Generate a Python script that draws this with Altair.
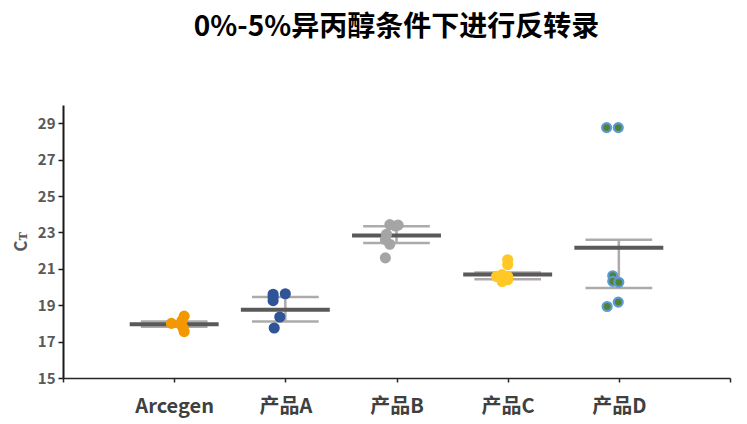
import json
import altair as alt
import pandas as pd

# ---- data ----
categories = ["Arcegen", "产品A", "产品B", "产品C", "产品D"]
means = [17.95, 18.75, 22.83, 20.69, 22.15]
err_low = [17.81, 18.10, 22.42, 20.42, 19.94]
err_high = [18.11, 19.45, 23.34, 20.80, 22.60]

point_group = (["Arcegen"] * 6 + ["产品A"] * 6 + ["产品B"] * 7 +
               ["产品C"] * 7 + ["产品D"] * 7)
point_ct = [18.00, 18.40, 18.15, 17.95, 17.75, 17.55,
            19.60, 19.45, 19.25, 19.63, 18.35, 17.75,
            23.43, 23.35, 23.40, 22.90, 22.60, 22.35, 21.60,
            21.50, 21.23, 20.58, 20.68, 20.40, 20.30, 20.58,
            28.76, 28.76, 20.62, 20.31, 20.26, 18.93, 19.17]
point_jitter = [-0.025, 0.09, 0.07, 0.06, 0.08, 0.09,
                -0.11, -0.11, -0.11, 0.0, -0.05, -0.10,
                -0.06, -0.01, 0.015, -0.09, -0.10, -0.06, -0.10,
                0.0, 0.0, -0.10, -0.05, 0.0, -0.05, 0.0,
                -0.11, -0.005, -0.055, -0.055, 0.0, -0.105, -0.005]
point_fill = ["#f39800", "#2f5597", "#a5a5a5", "#ffc826", "#548235"]
point_stroke = ["#f39800", "#2f5597", "#a5a5a5", "#ffc826", "#5b9bd5"]

title_text = "0%-5%异丙醇条件下进行反转录"
y_ticks = [15, 17, 19, 21, 23, 25, 27, 29]

FONT = "Noto Sans CJK SC"

summary = pd.DataFrame({
    "name": categories,
    "pos": list(range(1, len(categories) + 1)),
    "mean": means,
    "lo": err_low,
    "hi": err_high,
})
pos_of = {c: i + 1 for i, c in enumerate(categories)}
points = pd.DataFrame({
    "name": point_group,
    "ct": point_ct,
    "pos": [pos_of[g] + j for g, j in zip(point_group, point_jitter)],
})

label_expr = ("datum.value >= 1 && datum.value <= %d ? %s[datum.value - 1] : ''"
              % (len(categories), json.dumps(categories, ensure_ascii=False)))

x_scale = alt.Scale(domain=[0, len(categories) + 1], nice=False, zero=False)
y_scale = alt.Scale(domain=[15, 30], nice=False, zero=False)

x_axis = alt.Axis(values=list(range(0, len(categories) + 2)), labelExpr=label_expr,
                  tickCount=20,
                  title=None, grid=False, domainColor="#262626", domainWidth=1.5,
                  tickColor="#262626", tickSize=4, tickWidth=1.5,
                  labelFont=FONT, labelFontSize=20, labelFontWeight="bold",
                  labelColor="#404040", labelPadding=14, labelOverlap=False)
y_axis = alt.Axis(values=y_ticks, tickCount=20, title="Cᴛ", grid=False,
                  domainColor="#1a1a1a", domainWidth=2,
                  tickColor="#1a1a1a", tickSize=5, tickWidth=1.5,
                  labelFont=FONT, labelFontSize=15, labelFontWeight="bold",
                  labelColor="#595959", labelPadding=3, labelOverlap=False,
                  labelBound=False,
                  titleFont=FONT, titleFontSize=17, titleFontWeight="bold",
                  titleColor="#595959", titlePadding=7)

base = alt.Chart(summary)

vline = base.mark_rule(color="#aeaaaa", strokeWidth=2.5).encode(
    x=alt.X("pos:Q", scale=x_scale, axis=x_axis),
    y=alt.Y("lo:Q", scale=y_scale, axis=y_axis),
    y2="hi:Q",
)

cap_hi = base.transform_calculate(xl="datum.pos - 0.3", xr="datum.pos + 0.3").mark_rule(
    color="#aeaaaa", strokeWidth=2.5).encode(
    x=alt.X("xl:Q", scale=x_scale), x2="xr:Q",
    y=alt.Y("hi:Q", scale=y_scale),
)
cap_lo = base.transform_calculate(xl="datum.pos - 0.3", xr="datum.pos + 0.3").mark_rule(
    color="#aeaaaa", strokeWidth=2.5).encode(
    x=alt.X("xl:Q", scale=x_scale), x2="xr:Q",
    y=alt.Y("lo:Q", scale=y_scale),
)
mean_line = base.transform_calculate(xl="datum.pos - 0.4", xr="datum.pos + 0.4").mark_rule(
    color="#595959", strokeWidth=4).encode(
    x=alt.X("xl:Q", scale=x_scale), x2="xr:Q",
    y=alt.Y("mean:Q", scale=y_scale),
)

pts = alt.Chart(points).mark_circle(size=80, opacity=1, strokeWidth=2.2).encode(
    x=alt.X("pos:Q", scale=x_scale),
    y=alt.Y("ct:Q", scale=y_scale),
    fill=alt.Fill("name:N", scale=alt.Scale(domain=categories, range=point_fill), legend=None),
    stroke=alt.Stroke("name:N", scale=alt.Scale(domain=categories, range=point_stroke), legend=None),
)

chart = alt.layer(vline, cap_hi, cap_lo, mean_line, pts).properties(
    width=667, height=273,
    title=alt.TitleParams(title_text, font=FONT, fontSize=28, fontWeight="bold",
                          color="#000000", anchor="middle", offset=63),
    autosize=alt.AutoSizeParams(type="none"),
    padding={"left": 55, "top": 97, "right": 5, "bottom": 42},
).configure(
    font=FONT,
    view=alt.ViewConfig(stroke=None),
    axis=alt.AxisConfig(labelOverlap=False),
)

chart.save("out.html", embed_options={"renderer": "svg", "actions": False})
